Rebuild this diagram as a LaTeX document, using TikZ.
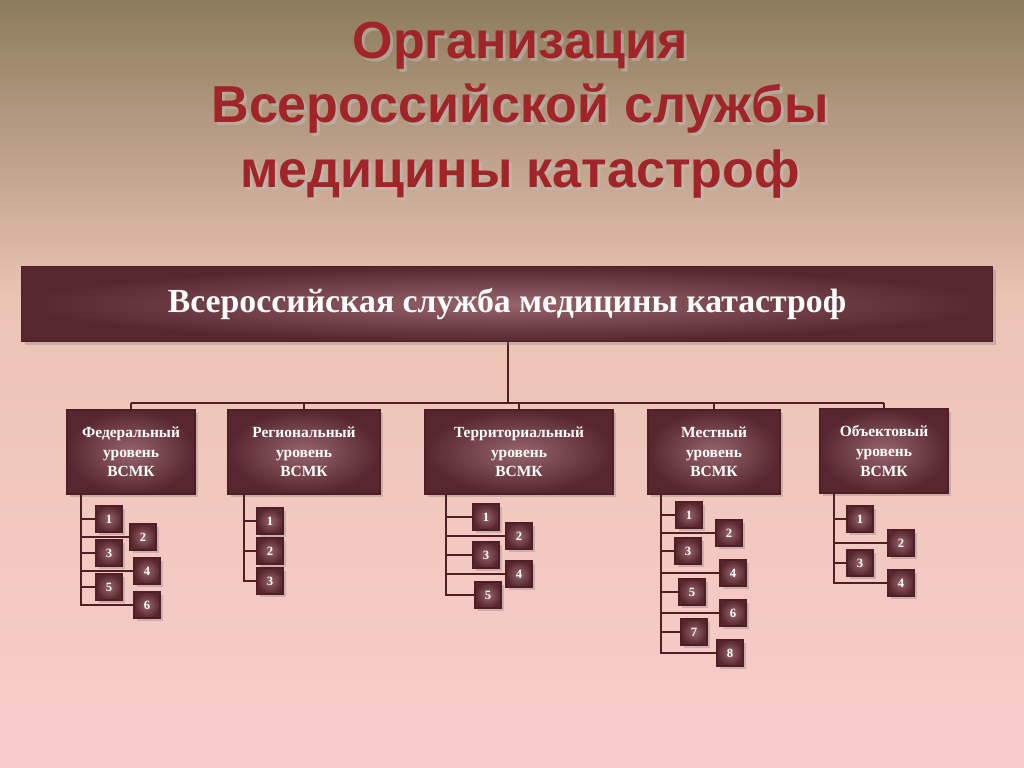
\documentclass[tikz,border=0pt]{standalone}
\usepackage{fontspec}
\setmainfont{Liberation Serif}
\newfontfamily\titlefont{Liberation Sans}
\usetikzlibrary{positioning, calc, shadows}
\definecolor{bgtop}{RGB}{140,124,92}
\definecolor{bgmid}{RGB}{236,196,180}
\definecolor{bgbot}{RGB}{248,204,204}
\definecolor{titlered}{RGB}{160,36,40}
\definecolor{boxdark}{RGB}{88,38,46}
\definecolor{boxlight}{RGB}{150,100,106}
\definecolor{linedark}{RGB}{80,30,36}

\begin{document}
\begin{tikzpicture}[
    x=0.025cm, y=-0.025cm,
    % Core styles
    mainbar/.style={
        draw=linedark, line width=1pt, inner color=boxlight, outer color=boxdark,
        minimum width=971*0.025cm, minimum height=75*0.025cm,
        text=white, font=\fontsize{24}{28}\selectfont\bfseries,
        drop shadow={opacity=0.35}
    },
    levelbox/.style={
        draw=linedark, line width=0.8pt, inner color=boxlight, outer color=boxdark,
        minimum height=84*0.025cm, align=center, text=white,
        font=\fontsize{11}{14}\selectfont\bfseries, drop shadow={opacity=0.35}
    },
    unitbox/.style={
        draw=linedark, line width=0.8pt, inner color=boxlight, outer color=boxdark,
        minimum size=26*0.025cm, inner sep=0pt, text=white,
        font=\fontsize{9}{10}\selectfont\bfseries, drop shadow={opacity=0.35}
    },
    link/.style={draw=linedark, line width=1.6pt},
    titletext/.style={font=\titlefont\fontsize{37}{46}\selectfont\bfseries, text=titlered, align=center}
]

% === BACKGROUND ===
\shade[top color=bgtop, bottom color=bgmid] (0,0) rectangle (1024,300);
\shade[top color=bgmid, bottom color=bgbot] (0,300) rectangle (1024,768);
\useasboundingbox (0,0) rectangle (1024,768);

% === TITLE ===
\node[titletext, text=black!25, opacity=0.5] at (523,113) {Организация\\Всероссийской службы\\медицины катастроф};
\node[titletext] (title) at (520,110) {Организация\\Всероссийской службы\\медицины катастроф};

% === CONNECTORS OF THE LEVELS ===
\coordinate (hub) at (508,403);
\coordinate (vsmk-foot) at (508,342);
\draw[link] (vsmk-foot) -- (hub);
\coordinate (hub-w) at (131,403);
\coordinate (hub-e) at (884,403);
\draw[link] (hub-w) -- (hub-e);

% === MAIN BAR ===
\node[mainbar] (vsmk) at (507,304) {Всероссийская служба медицины катастроф};

% === LEVELS ===
\node[levelbox, minimum width=128*0.025cm] (fed) at (131,452) {Федеральный\\уровень\\ВСМК};
\node[levelbox, minimum width=152*0.025cm] (reg) at (304,452) {Региональный\\уровень\\ВСМК};
\node[levelbox, minimum width=188*0.025cm] (ter) at (519,452) {Территориальный\\уровень\\ВСМК};
\node[levelbox, minimum width=132*0.025cm] (loc) at (714,452) {Местный\\уровень\\ВСМК};
\node[levelbox, minimum width=128*0.025cm] (obj) at (884,451) {Объектовый\\уровень\\ВСМК};

\foreach \lv in {fed,reg,ter,loc,obj}
    \draw[link] (\lv.north |- hub) -- (\lv.north);

% === UNITS ===
% level / spine x / list of number, x, y
\foreach \lv/\sx/\units in {
    fed/81/{1/109/519,2/143/537,3/109/553,4/147/571,5/109/587,6/147/605},
    reg/244/{1/270/521,2/270/551,3/270/581},
    ter/446/{1/486/517,2/519/536,3/486/555,4/519/574,5/488/595},
    loc/661/{1/689/515,2/729/533,3/688/551,4/733/573,5/692/592,6/733/613,7/694/632,8/730/653},
    obj/834/{1/860/519,2/901/543,3/860/563,4/901/583}} {
    \coordinate (\lv-top) at (\sx,494);
    \foreach \n/\ux/\uy in \units {
        \coordinate (\lv-j\n) at (\sx,\uy);
        \node[unitbox] (\lv-u\n) at (\ux,\uy) {\n};
        \draw[link, line width=1.3pt] (\lv-top) -- (\lv-j\n) -- (\lv-u\n.west);
    }
}

\end{tikzpicture}
\end{document}
